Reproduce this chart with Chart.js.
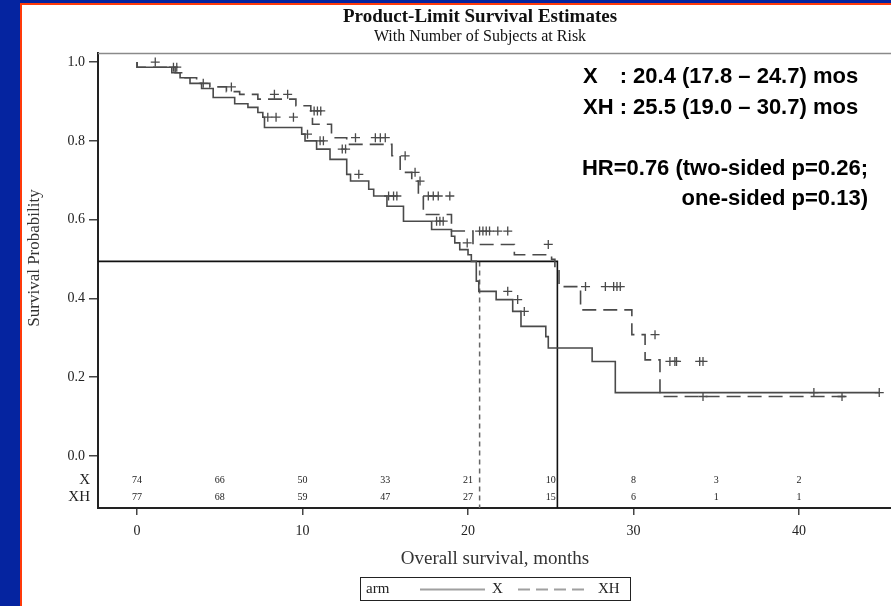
<!DOCTYPE html>
<html>
<head>
<meta charset="utf-8">
<script src="https://cdn.jsdelivr.net/npm/chart.js@4/dist/chart.umd.min.js"></script>
<style>
html,body{margin:0;padding:0;background:#0524a0;}
#wrap{position:absolute;left:0;top:0;width:891px;height:606px;}
</style>
</head>
<body>
<div id="wrap"><canvas id="c" width="891" height="606"></canvas></div>
<script>
// ---- data ----
const xTimes = [0, 2.1, 2.6, 3.2, 3.9, 4.6, 5.9, 6.7, 7.3, 7.6, 7.7, 9.95, 10.15, 10.85, 11.66, 12.67, 12.9, 14.0, 14.3, 15.1, 16.1, 17.8, 19.0, 19.2, 19.5, 20.0, 20.2, 20.5, 20.65, 21.7, 22.7, 23.2, 24.7, 24.85, 27.5, 28.9, 39.5, 44.85];
const xSurv  = [1.0, 0.987, 0.973, 0.96, 0.946, 0.933, 0.91, 0.894, 0.885, 0.872, 0.86, 0.834, 0.817, 0.80, 0.779, 0.753, 0.715, 0.698, 0.677, 0.66, 0.634, 0.596, 0.575, 0.558, 0.541, 0.524, 0.511, 0.494, 0.444, 0.418, 0.397, 0.367, 0.329, 0.303, 0.274, 0.24, 0.161, 0.161];
const xhTimes = [0, 2.3, 2.9, 3.6, 4.4, 5.4, 6.2, 7.3, 9.6, 10.5, 10.6, 11.75, 12.67, 15.4, 15.9, 16.6, 17.0, 17.3, 19.0, 20.3, 22.8, 25.05, 25.25, 25.5, 26.8, 29.9, 30.7, 31.6, 32.1, 42.8];
const xhSurv  = [1.0, 0.987, 0.973, 0.96, 0.946, 0.937, 0.925, 0.918, 0.906, 0.889, 0.876, 0.842, 0.808, 0.791, 0.762, 0.72, 0.698, 0.66, 0.613, 0.571, 0.537, 0.511, 0.499, 0.47, 0.43, 0.371, 0.308, 0.244, 0.151, 0.151];
const xCensored  = [1.1, 2.2, 4.0, 7.9, 8.4, 9.45, 10.3, 11.06, 11.26, 12.4, 12.6, 13.4, 15.2, 15.5, 15.7, 18.1, 18.3, 18.5, 19.95, 22.4, 23.0, 23.4, 32.2, 32.5, 32.6, 34.0, 34.2, 40.9, 44.85];
const xhCensored = [2.4, 5.7, 8.3, 9.1, 10.7, 10.9, 11.1, 13.2, 14.4, 14.7, 15.0, 16.2, 16.8, 17.1, 17.6, 17.9, 18.2, 18.9, 20.7, 20.9, 21.1, 21.3, 21.8, 22.4, 24.85, 27.1, 28.3, 28.8, 29.0, 29.2, 31.3, 34.2, 42.6];
const riskTimes = [0, 5, 10, 15, 20, 25, 30, 35, 40];
const riskX  = [74, 66, 50, 33, 21, 10, 8, 3, 2];
const riskXH = [77, 68, 59, 47, 27, 15, 6, 1, 1];
const xTickValues = [0, 10, 20, 30, 40];
const yTickValues = [0, 0.2, 0.4, 0.6, 0.8, 1.0];
const medianLevel = 0.494;
const medianX  = 20.7;
const medianXH = 25.4;
const xRange = [-2.36, 45.56];
const yRange = [-0.132, 1.023];
const riskRowY = [-0.061, -0.104];

function stepAt(times, surv, t){
  let v = surv[0];
  for (let i=0;i<times.length;i++){ if (times[i] <= t) v = surv[i]; }
  return v;
}
const toPts = (t, s) => t.map((v,i)=>({x:v, y:s[i]}));
const censPts = (c, t, s) => c.map(v=>({x:v, y:stepAt(t,s,v)}));

const SERIF = '"Liberation Serif","Times New Roman",serif';
const SANS = '"Liberation Sans",Arial,sans-serif';

const decor = {
  id:'decor',
  beforeDraw(chart){
    const ctx = chart.ctx;
    ctx.save();
    ctx.fillStyle = '#0524a0'; ctx.fillRect(0,0,891,606);
    ctx.fillStyle = '#ff3a0a'; ctx.fillRect(20,3,871,603);
    ctx.fillStyle = '#ffffff'; ctx.fillRect(22,5,869,601);
    ctx.restore();
  },
  afterDraw(chart){
    const ctx = chart.ctx, a = chart.chartArea;
    const xs = chart.scales.x, ys = chart.scales.y;
    ctx.save();
    // top frame line
    ctx.strokeStyle = '#8a8a8a'; ctx.lineWidth = 1.5;
    ctx.beginPath(); ctx.moveTo(a.left, a.top+0.5); ctx.lineTo(a.right, a.top+0.5); ctx.stroke();
    // titles
    ctx.fillStyle = '#111'; ctx.textAlign = 'center'; ctx.textBaseline = 'middle';
    ctx.font = 'bold 19px ' + SERIF;
    ctx.fillText('Product-Limit Survival Estimates', 480, 17);
    ctx.font = '16px ' + SERIF;
    ctx.fillText('With Number of Subjects at Risk', 480, 37);
    // y title
    ctx.save();
    ctx.translate(35, 258); ctx.rotate(-Math.PI/2);
    ctx.font = '17px ' + SERIF; ctx.fillStyle = '#333';
    ctx.fillText('Survival Probability', 0, 0);
    ctx.restore();
    // x title
    ctx.font = '19px ' + SERIF; ctx.fillStyle = '#333';
    ctx.fillText('Overall survival, months', 495, 559);
    // at-risk rows
    ctx.font = '10px ' + SERIF; ctx.fillStyle = '#222';
    riskTimes.forEach((t,i)=>{
      const px = xs.getPixelForValue(t);
      ctx.fillText(String(riskX[i]), px, ys.getPixelForValue(riskRowY[0]));
      ctx.fillText(String(riskXH[i]), px, ys.getPixelForValue(riskRowY[1]));
    });
    ctx.textAlign = 'right'; ctx.font = '15px ' + SERIF;
    ctx.fillText('X', 90, ys.getPixelForValue(riskRowY[0]));
    ctx.fillText('XH', 90, ys.getPixelForValue(riskRowY[1]));
    // annotation
    ctx.textAlign = 'left'; ctx.fillStyle = '#000';
    ctx.font = 'bold 22px ' + SANS;
    const colonX = 583 + ctx.measureText('XH ').width;
    ctx.fillText('X', 583, 77);
    ctx.fillText(': 20.4 (17.8 \u2013 24.7) mos', colonX, 77);
    ctx.fillText('XH : 25.5 (19.0 \u2013 30.7) mos', 583, 108);
    ctx.textAlign = 'right';
    ctx.fillText('HR=0.76 (two-sided p=0.26;', 868, 169);
    ctx.fillText('one-sided p=0.13)', 868, 199);
    // legend box
    ctx.strokeStyle = '#222'; ctx.lineWidth = 1;
    ctx.strokeRect(360.5, 577.5, 270, 23);
    ctx.fillStyle = '#222'; ctx.textAlign = 'left'; ctx.font = '15px ' + SERIF;
    ctx.fillText('arm', 366, 589);
    ctx.fillText('X', 492, 589);
    ctx.fillText('XH', 598, 589);
    ctx.strokeStyle = '#a0a0a0'; ctx.lineWidth = 2;
    ctx.beginPath(); ctx.moveTo(420, 589.5); ctx.lineTo(485, 589.5); ctx.stroke();
    ctx.setLineDash([12,6]);
    ctx.beginPath(); ctx.moveTo(518, 589.5); ctx.lineTo(590, 589.5); ctx.stroke();
    ctx.restore();
  }
};

const lineCol = '#4a4a4a';
new Chart(document.getElementById('c'), {
  type: 'line',
  data: {
    datasets: [
      {data: toPts(xTimes, xSurv), stepped:'after', borderColor: lineCol, borderWidth:1.6, pointRadius:0, fill:false},
      {data: toPts(xhTimes, xhSurv), stepped:'after', borderColor: lineCol, borderWidth:1.6, borderDash:[14,7], pointRadius:0, fill:false},
      {data: censPts(xCensored, xTimes, xSurv), showLine:false, pointStyle:'cross', pointRadius:4.5, borderColor: lineCol, borderWidth:1.3},
      {data: censPts(xhCensored, xhTimes, xhSurv), showLine:false, pointStyle:'cross', pointRadius:4.5, borderColor: lineCol, borderWidth:1.3},
      {data: [{x:xRange[0], y:medianLevel},{x:medianXH, y:medianLevel},{x:medianXH, y:yRange[0]}], borderColor:'#111', borderWidth:1.6, pointRadius:0, fill:false},
      {data: [{x:medianX, y:medianLevel},{x:medianX, y:yRange[0]}], borderColor:'#666', borderWidth:1.5, borderDash:[5,4], pointRadius:0, fill:false}
    ]
  },
  options: {
    responsive:false, animation:false, devicePixelRatio:1,
    layout:{autoPadding:false, padding:{top:53, left:0, right:0, bottom:0}},
    plugins:{legend:{display:false}, tooltip:{enabled:false}, title:{display:false}},
    scales:{
      x:{type:'linear', min:xRange[0], max:xRange[1],
         afterFit(s){ s.height = 98; },
         afterBuildTicks(s){ s.ticks = xTickValues.map(v=>({value:v})); },
         grid:{drawOnChartArea:false, drawTicks:true, tickLength:7, color:'#444', lineWidth:1.5},
         border:{display:true, color:'#222', width:2},
         ticks:{padding:8, color:'#222', font:{family:SERIF, size:14}, maxRotation:0, callback:v=>String(v)}},
      y:{type:'linear', min:yRange[0], max:yRange[1],
         afterFit(s){ s.width = 98; },
         afterBuildTicks(s){ s.ticks = yTickValues.map(v=>({value:v})); },
         grid:{drawOnChartArea:false, drawTicks:true, tickLength:9, color:'#444', lineWidth:1.5},
         border:{display:true, color:'#222', width:2},
         ticks:{padding:4, color:'#222', font:{family:SERIF, size:14}, callback:v=>Number(v).toFixed(1)}}
    }
  },
  plugins:[decor]
});
</script>
</body>
</html>
